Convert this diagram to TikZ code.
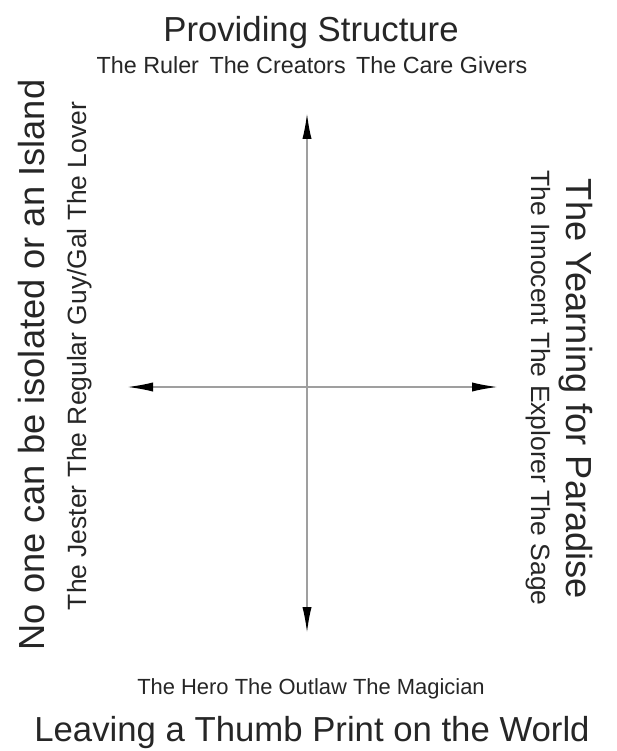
\documentclass[tikz,border=0pt]{standalone}
\usepackage{fontspec}
\setmainfont{Liberation Sans}
\usetikzlibrary{arrows.meta}
\tikzset{
  axis/.style={draw=gray!75, line width=0.45mm,
    {Latex[length=6.5mm,width=2.3mm,color=black]}-{Latex[length=6.5mm,width=2.3mm,color=black]}},
  bigtext/.style={font=\fontsize{24.7}{28}\selectfont, text=black!85, anchor=base, inner sep=0pt},
  tallbig/.style={bigtext, font=\fontsize{25.8}{30}\selectfont},
  smalltext/.style={font=\fontsize{16.6}{19}\selectfont, text=black!85, anchor=base, inner sep=0pt},
  sidetext/.style={smalltext, font=\fontsize{18.8}{22}\selectfont},
}
\begin{document}
\begin{tikzpicture}[x=0.25mm,y=-0.25mm]
  \useasboundingbox (0,0) rectangle (617,751);
  % axes
  \coordinate (top) at (307,113);
  \coordinate (bottom) at (307,633);
  \coordinate (left) at (127,387);
  \coordinate (right) at (498,387);
  \draw[axis] (bottom) -- (top);
  \draw[axis] (left) -- (right);
  % top and bottom
  \node[bigtext] (north) at (311,42) {Providing Structure};
  \node[smalltext] (northtypes) at (312,74) {The Ruler\hspace{0.45em}The Creators\hspace{0.45em}The Care Givers};
  \node[smalltext,font=\fontsize{15.6}{19}\selectfont] (southtypes) at (311,694) {The Hero The Outlaw The Magician};
  \node[bigtext] (south) at (312,741) {Leaving a Thumb Print on the World};
  % sides
  \node[tallbig,rotate=90] (west) at (44,365) {No one can be isolated or an Island};
  \node[sidetext,rotate=90] (westtypes) at (86,356) {The Jester The Regular Guy/Gal The Lover};
  \node[tallbig,rotate=-90] (east) at (566,389) {The Yearning for Paradise};
  \node[sidetext,rotate=-90] (easttypes) at (531,388) {The Innocent The Explorer The Sage};
\end{tikzpicture}
\end{document}
